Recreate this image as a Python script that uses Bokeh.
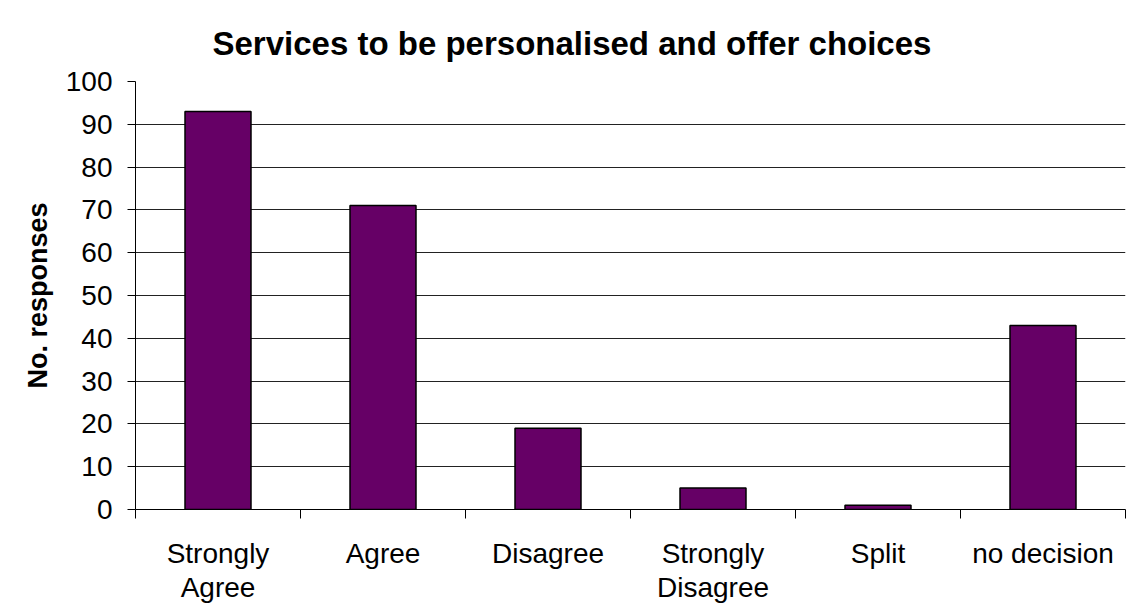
from bokeh.plotting import figure
from bokeh.models import FixedTicker, LinearAxis, Range1d, Title
from bokeh.embed import file_html
from bokeh.resources import INLINE

categories = ["Strongly\nAgree", "Agree", "Disagree", "Strongly\nDisagree", "Split", "no decision"]
responses = [93, 71, 19, 5, 1, 43]
y_ticks = [0, 10, 20, 30, 40, 50, 60, 70, 80, 90, 100]
title_text = "Services to be personalised and offer choices"

FONT = "Liberation Sans"
centers = [i + 0.5 for i in range(len(categories))]
boundaries = list(range(len(categories) + 1))

p = figure(width=1130, height=607, output_backend="svg", toolbar_location=None,
           x_range=Range1d(0, len(categories)), y_range=Range1d(0, 100),
           x_axis_location=None, min_border_left=135, min_border_right=5,
           min_border_top=81, min_border_bottom=98)
p.outline_line_color = None
p.background_fill_color = "white"
p.border_fill_color = "white"

p.vbar(x=centers, top=responses, width=0.4, fill_color="#660066",
       line_color="black", line_width=1.5)

# y axis
p.yaxis.ticker = FixedTicker(ticks=y_ticks)
p.yaxis.axis_label = "No. responses"
p.yaxis.axis_label_text_font = FONT
p.yaxis.axis_label_text_font_style = "bold"
p.yaxis.axis_label_text_font_size = "27px"
p.yaxis.axis_label_text_color = "black"
p.yaxis.axis_label_standoff = 10
p.yaxis.major_label_text_font = FONT
p.yaxis.major_label_text_font_size = "28px"
p.yaxis.major_label_text_color = "black"
p.yaxis.major_label_standoff = 15
p.yaxis.axis_line_color = "black"
p.yaxis.major_tick_line_color = "black"
p.yaxis.major_tick_out = 8
p.yaxis.major_tick_in = 0
p.yaxis.minor_tick_line_color = None

p.ygrid.ticker = FixedTicker(ticks=y_ticks)
p.ygrid.grid_line_color = "#222222"
p.ygrid.grid_line_width = 1
p.xgrid.grid_line_color = None

# x axis: boundary ticks (no labels)
bx = LinearAxis(ticker=FixedTicker(ticks=boundaries),
                major_label_overrides={b: "" for b in boundaries})
bx.major_label_text_font_size = "1px"
bx.axis_line_color = "black"
bx.major_tick_line_color = "black"
bx.major_tick_out = 9
bx.major_tick_in = 0
bx.minor_tick_line_color = None
bx.major_label_standoff = 0
p.add_layout(bx, "below")

# category labels
lx = LinearAxis(ticker=FixedTicker(ticks=centers),
                major_label_overrides={c: lab for c, lab in zip(centers, categories)})
lx.axis_line_color = None
lx.major_tick_line_color = None
lx.minor_tick_line_color = None
lx.major_label_text_font = FONT
lx.major_label_text_font_size = "28px"
lx.major_label_text_line_height = 1.1
lx.major_label_text_color = "black"
lx.major_label_standoff = 13
p.add_layout(lx, "below")

t = Title(text=title_text, align="left", offset=77, text_font=FONT,
          text_font_style="bold", text_font_size="33px", text_color="black",
          standoff=40)
p.add_layout(t, "above")

open("out.html", "w").write(file_html(p, INLINE))
